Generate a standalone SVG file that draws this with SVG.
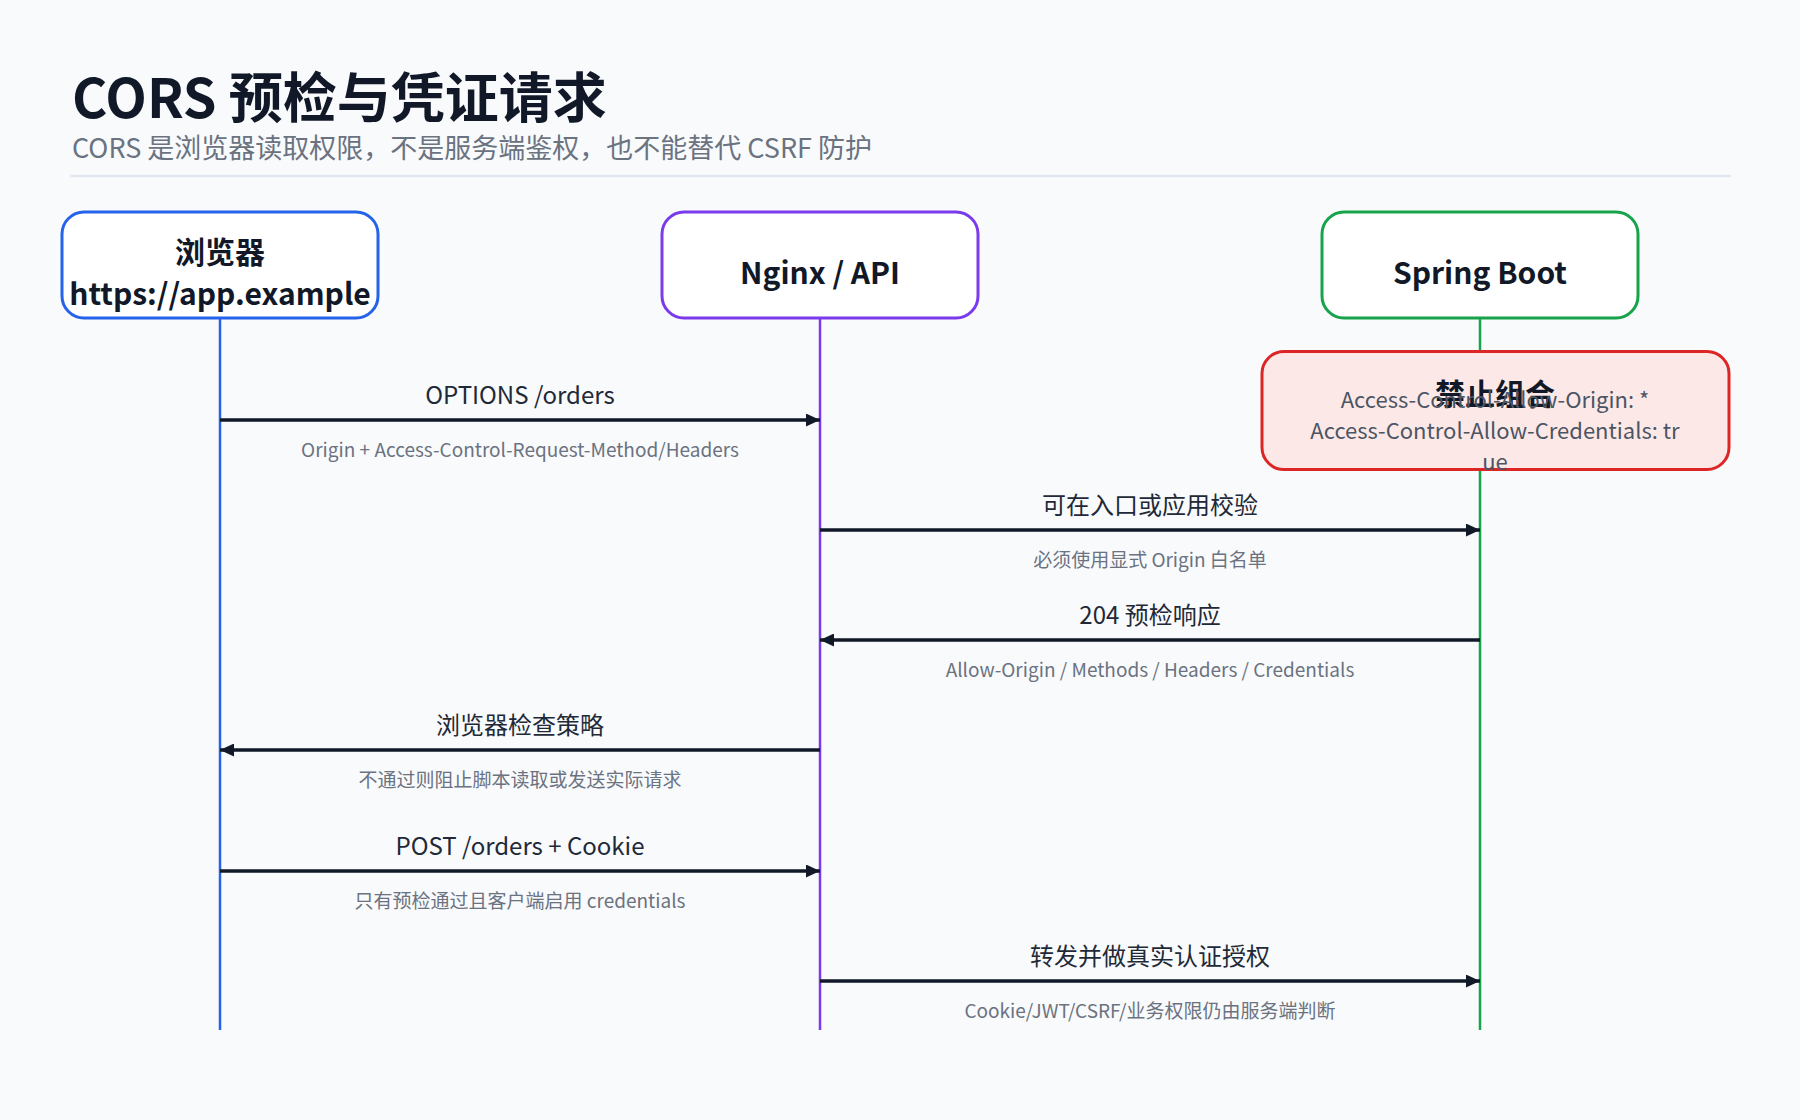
<svg xmlns="http://www.w3.org/2000/svg" width="1800" height="1120" viewBox="0 0 1800 1120">
<style>
text{font-family:"Noto Sans CJK SC","Noto Sans",sans-serif}
.title{font-size:54px;font-weight:700;fill:#111827}
.subtitle{font-size:27px;fill:#6b7280}
.node{fill:#ffffff;stroke-width:3}
.ntext{font-size:30px;font-weight:700;fill:#111827;text-anchor:middle}
.life{stroke-width:2.5;fill:none}
.msg{stroke:#111827;stroke-width:3.5;fill:none}
.lbl{font-size:24px;fill:#1f2937;text-anchor:middle}
.sub{font-size:19px;fill:#6b7280;text-anchor:middle}
.warn{fill:#fde8e8;stroke:#dc2626;stroke-width:3}
.wtitle{font-size:30px;font-weight:700;fill:#111827;text-anchor:middle}
.wbody{font-size:22px;fill:#4b5563;text-anchor:middle}
</style>
<defs>
<marker id="ah" viewBox="0 0 14 13" refX="14" refY="6.5" markerWidth="14" markerHeight="13" markerUnits="userSpaceOnUse" orient="auto">
<path d="M0,0 L14,6.5 L0,13 Z" fill="#111827"/>
</marker>
</defs>
<rect width="1800" height="1120" fill="#f8fafc"/>
<text class="title" x="72" y="118">CORS 预检与凭证请求</text>
<text class="subtitle" x="72" y="158">CORS 是浏览器读取权限，不是服务端鉴权，也不能替代 CSRF 防护</text>
<line x1="70" y1="176" x2="1731" y2="176" stroke="#e2e8f0" stroke-width="2.5"/>

<g id="lifelines">
<line class="life" x1="220" y1="319" x2="220" y2="1030" stroke="#2563eb"/>
<line class="life" x1="820" y1="319" x2="820" y2="1030" stroke="#7c3aed"/>
<line class="life" x1="1480" y1="319" x2="1480" y2="1030" stroke="#16a34a"/>
</g>

<g id="node-browser">
<rect class="node" x="62" y="212" width="316" height="106" rx="22" stroke="#2563eb"/>
<text class="ntext" x="220" y="263">浏览器</text>
<text class="ntext" x="220" y="305">https://app.example</text>
</g>
<g id="node-nginx">
<rect class="node" x="662" y="212" width="316" height="106" rx="22" stroke="#7c3aed"/>
<text class="ntext" x="820" y="284">Nginx / API</text>
</g>
<g id="node-spring">
<rect class="node" x="1322" y="212" width="316" height="106" rx="22" stroke="#16a34a"/>
<text class="ntext" x="1480" y="284">Spring Boot</text>
</g>
<g id="node-forbidden">
<rect class="warn" x="1262" y="351.5" width="467" height="118" rx="22"/>
<text class="wtitle" x="1495" y="405">禁止组合</text>
<text class="wbody" x="1495" y="408">Access-Control-Allow-Origin: *</text>
<text class="wbody" x="1495" y="439">Access-Control-Allow-Credentials: tr</text>
<text class="wbody" x="1495" y="470">ue</text>
</g>

<g id="connectors">
<line class="msg" x1="220" y1="420" x2="820" y2="420" marker-end="url(#ah)"/>
<text class="lbl" x="520" y="404">OPTIONS /orders</text>
<text class="sub" x="520" y="457">Origin + Access-Control-Request-Method/Headers</text>

<line class="msg" x1="820" y1="530" x2="1480" y2="530" marker-end="url(#ah)"/>
<text class="lbl" x="1150" y="514">可在入口或应用校验</text>
<text class="sub" x="1150" y="567">必须使用显式 Origin 白名单</text>

<line class="msg" x1="1480" y1="640" x2="820" y2="640" marker-end="url(#ah)"/>
<text class="lbl" x="1150" y="624">204 预检响应</text>
<text class="sub" x="1150" y="677">Allow-Origin / Methods / Headers / Credentials</text>

<line class="msg" x1="820" y1="750" x2="220" y2="750" marker-end="url(#ah)"/>
<text class="lbl" x="520" y="734">浏览器检查策略</text>
<text class="sub" x="520" y="787">不通过则阻止脚本读取或发送实际请求</text>

<line class="msg" x1="220" y1="871" x2="820" y2="871" marker-end="url(#ah)"/>
<text class="lbl" x="520" y="855">POST /orders + Cookie</text>
<text class="sub" x="520" y="908">只有预检通过且客户端启用 credentials</text>

<line class="msg" x1="820" y1="981" x2="1480" y2="981" marker-end="url(#ah)"/>
<text class="lbl" x="1150" y="965">转发并做真实认证授权</text>
<text class="sub" x="1150" y="1018">Cookie/JWT/CSRF/业务权限仍由服务端判断</text>
</g>
</svg>
